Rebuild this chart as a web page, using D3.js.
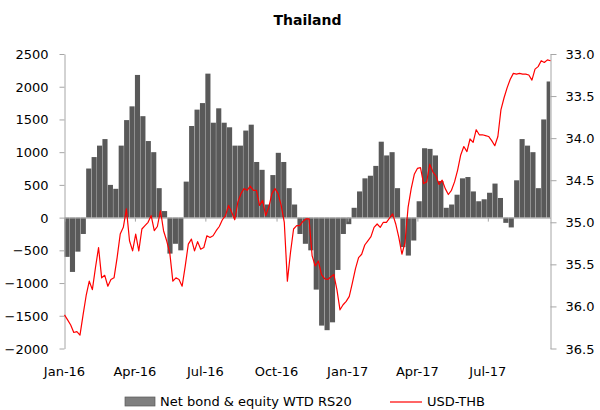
<!DOCTYPE html>
<html>
<head>
<meta charset="utf-8">
<script src="https://cdn.jsdelivr.net/npm/d3@7"></script>
<style>
  html, body { margin: 0; padding: 0; background: #fff; overflow: hidden; }
  #chart { width: 600px; height: 410px; }
  svg { display: block; font-family: "DejaVu Sans", Verdana, sans-serif; }
</style>
</head>
<body>
<div id="chart"></div>
<script>
// weekly bars, starting 1 Jan 2016
var flowStart = "2016-01-01";
var flowValues = [
  -600, -830, -520, -250, 750, 925, 1100, 1200, 500, 440,
  1100, 1490, 1700, 2180, 1550, 1170, 1000, 450, 100, -550,
  -400, -500, 550, 1400, 1650, 1750, 2200, 1450, 1670, 1450,
  1380, 1100, 1100, 1330, 1420, 850, 730, 200, 650, 990,
  850, 450, 200, -250, -400, -500, -1100, -1650, -1720, -1600,
  -800, -250, -100, 150, 400, 600, 640, 790, 1160, 950,
  1000, 450, -450, -580, -350, 250, 1060, 1050, 950, 560,
  150, 200, 350, 600, 620, 400, 250, 280, 380, 520,
  300, -80, -150, 570, 1200, 1100, 1000, 450, 1500, 2080
];

// USD-THB, one point every 4 days from 1 Jan 2016
var fxStart = "2016-01-01";
var fxValues = [
  36.10, 36.16, 36.22, 36.31, 36.30, 36.34, 36.10, 35.87, 35.70, 35.80,
  35.54, 35.30, 35.66, 35.63, 35.76, 35.68, 35.66, 35.42, 35.14, 35.06,
  34.84, 35.22, 35.34, 35.14, 35.34, 35.08, 35.04, 35.00, 34.92, 35.10,
  35.05, 34.86, 35.10, 35.22, 35.36, 35.70, 35.66, 35.68, 35.76, 35.52,
  35.26, 35.20, 35.34, 35.23, 35.32, 35.30, 35.16, 35.18, 35.16, 35.10,
  35.05, 34.97, 34.92, 34.80, 34.88, 34.97, 34.76, 34.66, 34.60, 34.62,
  34.57, 34.62, 34.62, 34.80, 34.74, 34.92, 34.82, 34.66, 34.60, 34.66,
  34.80, 35.00, 35.70, 35.36, 35.08, 35.04, 35.04, 34.99, 34.96, 34.96,
  35.40, 35.52, 35.46, 35.62, 35.67, 35.68, 35.65, 35.62, 35.80, 36.04,
  35.98, 35.94, 35.88, 35.72, 35.55, 35.42, 35.38, 35.27, 35.22, 35.17,
  35.06, 35.02, 35.06, 35.00, 35.00, 34.95, 34.90, 35.02, 35.18, 35.38,
  35.24, 34.82, 34.60, 34.43, 34.36, 34.35, 34.54, 34.52, 34.31, 34.40,
  34.45, 34.55, 34.50, 34.60, 34.67, 34.62, 34.52, 34.38, 34.20, 34.10,
  34.16, 34.01, 34.05, 33.90, 33.96, 33.96, 33.97, 33.98, 34.03, 34.09,
  33.98, 33.66, 33.52, 33.40, 33.30, 33.23, 33.24, 33.23, 33.24, 33.24,
  33.25, 33.31, 33.18, 33.15, 33.08, 33.10, 33.07, 33.08
];

var leftTicks = [-2000, -1500, -1000, -500, 0, 500, 1000, 1500, 2000, 2500];
var rightTicks = [33.0, 33.5, 34.0, 34.5, 35.0, 35.5, 36.0, 36.5];
var monthTicks = ["2016-01-01", "2016-04-01", "2016-07-01", "2016-10-01",
                  "2017-01-01", "2017-04-01", "2017-07-01"];

var parse = d3.timeParse("%Y-%m-%d");

var flow = flowValues.map(function(v, i) {
    return { date: d3.timeDay.offset(parse(flowStart), 7 * i), value: v };
});
var fx = fxValues.map(function(v, i) {
    return { date: d3.timeDay.offset(parse(fxStart), 4 * i), value: v };
});

var outerWidth = 600;
var outerHeight = 410;
var margin = { left: 64.5, top: 54, right: 49.5, bottom: 61.5 };
var innerWidth  = outerWidth  - margin.left - margin.right;
var innerHeight = outerHeight - margin.top  - margin.bottom;

var axisGrey = "#a6a6a6";
var textColour = "#000";

var svg = d3.select("#chart").append("svg")
    .attr("width", outerWidth)
    .attr("height", outerHeight);

svg.append("text")
    .attr("x", margin.left + innerWidth / 2)
    .attr("y", 25)
    .attr("text-anchor", "middle")
    .style("font-size", "14px")
    .style("font-weight", "bold")
    .text("Thailand");

var g = svg.append("g")
    .attr("transform", "translate(" + margin.left + "," + margin.top + ")");

var xScale = d3.scaleTime()
    .domain([parse("2016-01-01"), parse("2017-09-20")])
    .range([0, innerWidth]);
var yLeft = d3.scaleLinear().domain([-2000, 2500]).range([innerHeight, 0]);
var yRight = d3.scaleLinear().domain([36.5, 33.0]).range([innerHeight, 0]);

// bars
g.append("g").selectAll("rect")
    .data(flow)
    .enter().append("rect")
    .attr("x", function(d) { return xScale(d.date); })
    .attr("width", function(d) {
        var end = Math.min(xScale(d3.timeDay.offset(d.date, 7)), innerWidth);
        return Math.max(0, end - xScale(d.date) - 0.3);
    })
    .attr("y", function(d) { return yLeft(Math.max(0, d.value)); })
    .attr("height", function(d) { return Math.abs(yLeft(d.value) - yLeft(0)); })
    .attr("fill", "#595959");

// x axis along the zero line, labels at the bottom
var xAxisG = g.append("g")
    .attr("transform", "translate(0," + yLeft(0) + ")")
    .call(d3.axisBottom(xScale)
        .tickValues(monthTicks.map(parse))
        .tickSize(4)
        .tickSizeOuter(0));
xAxisG.selectAll(".tick text").remove();
xAxisG.select(".domain").attr("stroke", axisGrey);
xAxisG.selectAll(".tick line").attr("stroke", axisGrey);

g.append("g").selectAll("text")
    .data(monthTicks.map(parse))
    .enter().append("text")
    .attr("x", function(d) { return xScale(d); })
    .attr("y", innerHeight + 27)
    .attr("text-anchor", "middle")
    .style("font-size", "13px")
    .attr("fill", textColour)
    .text(d3.timeFormat("%b-%y"));

// left axis (line + ticks from d3, labels drawn separately)
var leftAxisG = g.append("g")
    .call(d3.axisLeft(yLeft).tickValues(leftTicks).tickSize(5).tickSizeOuter(0));
leftAxisG.selectAll(".tick text").remove();
leftAxisG.select(".domain").attr("stroke", axisGrey);
leftAxisG.selectAll(".tick line").attr("stroke", axisGrey);

g.append("g").selectAll("text")
    .data(leftTicks)
    .enter().append("text")
    .attr("x", -16)
    .attr("y", function(d) { return yLeft(d) + 5; })
    .attr("text-anchor", "end")
    .style("font-size", "13px")
    .attr("fill", textColour)
    .text(d3.format("d"));

// right axis
var rightAxisG = g.append("g")
    .attr("transform", "translate(" + innerWidth + ",0)")
    .call(d3.axisRight(yRight).tickValues(rightTicks).tickSize(6).tickSizeOuter(0));
rightAxisG.selectAll(".tick text").remove();
rightAxisG.select(".domain").attr("stroke", axisGrey);
rightAxisG.selectAll(".tick line").attr("stroke", axisGrey);

g.append("g").selectAll("text")
    .data(rightTicks)
    .enter().append("text")
    .attr("x", innerWidth + 15)
    .attr("y", function(d) { return yRight(d) + 5; })
    .style("font-size", "13px")
    .attr("fill", textColour)
    .text(d3.format(".1f"));

// USD-THB line
var line = d3.line()
    .x(function(d) { return xScale(d.date); })
    .y(function(d) { return yRight(d.value); });

g.append("path")
    .datum(fx)
    .attr("d", line)
    .attr("fill", "none")
    .attr("stroke", "#ff0000")
    .attr("stroke-width", 1.2)
    .attr("stroke-linejoin", "round");

// legend
var legend = svg.append("g").style("font-size", "13px");
legend.append("rect")
    .attr("x", 125).attr("y", 397)
    .attr("width", 30).attr("height", 9)
    .attr("fill", "#7f7f7f")
    .attr("stroke", "#595959")
    .attr("stroke-width", 0.7);
legend.append("text")
    .attr("x", 160).attr("y", 406)
    .text("Net bond & equity WTD RS20");
legend.append("line")
    .attr("x1", 390).attr("x2", 422)
    .attr("y1", 402).attr("y2", 402)
    .attr("stroke", "#ff0000")
    .attr("stroke-width", 1.2);
legend.append("text")
    .attr("x", 427).attr("y", 406)
    .text("USD-THB");
</script>
</body>
</html>
